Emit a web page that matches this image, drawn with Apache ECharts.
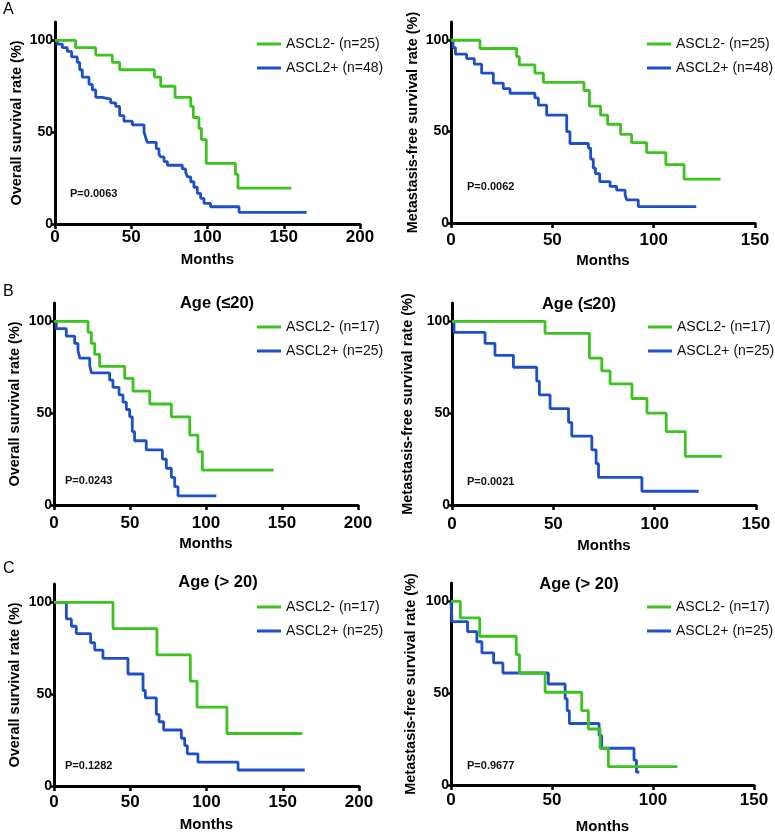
<!DOCTYPE html>
<html><head><meta charset="utf-8">
<script src="https://cdn.jsdelivr.net/npm/echarts@6/dist/echarts.min.js"></script>
<style>html,body{margin:0;padding:0;background:#fff}#c{width:775px;height:837px}</style>
</head><body><div id="c"></div>
<script>
// ---------- DATA ----------
const yTicks = [0, 50, 100];
const xMaxOS = 200, xMaxMFS = 150;
const legendA = ['ASCL2- (n=25)', 'ASCL2+ (n=48)'];
const legendBC = ['ASCL2- (n=17)', 'ASCL2+ (n=25)'];
const panelTitles = ['', '', 'Age (≤20)', 'Age (≤20)', 'Age (> 20)', 'Age (> 20)'];
const pValues = ['P=0.0063', 'P=0.0062', 'P=0.0243', 'P=0.0021', 'P=0.1282', 'P=0.9677'];
const yTitles = ['Overall survival rate (%)', 'Metastasis-free survival rate (%)'];

// Panel A, overall survival
const aOsNegT = [0, 13.5, 26.7, 37.6, 42.4, 65.2, 69.3, 78.7, 89, 90.7, 94.4, 96, 99.2, 118.3, 120, 155];
const aOsNegS = [100, 96, 92, 88, 84, 80, 75, 69, 64, 58, 52, 46, 33, 27, 19.5, 19.5];
const aOsPosT = [0, 1.5, 4.8, 8.1, 10.9, 14.6, 16.2, 17.9, 22.3, 24.5, 26.7, 31, 36.5, 39.8, 42.4, 45.2, 50.7, 58.4, 59.5, 60.5, 66.4, 68.2, 69.3, 71.5, 73.7, 83.5, 85.7, 86.8, 89, 91.1, 93.3, 95.5, 97.7, 102, 120.7, 165];
const aOsPosS = [100, 98, 96, 94, 91, 88, 84, 80, 76, 73, 69, 68, 66, 64, 59, 56, 54, 50, 47, 44.5, 41, 38, 36.5, 34, 32, 30, 28, 25.7, 23, 20, 16.7, 14, 11.2, 9.4, 6.3, 6.3];
// Panel A, metastasis-free survival
const aMfsNegT = [0, 14.3, 32.4, 33.7, 41.4, 45.6, 65.6, 68.3, 73.8, 77.3, 83.7, 89.1, 96.5, 106, 115, 133];
const aMfsNegS = [100, 95.5, 91, 86.5, 82, 77, 72.5, 64, 59, 54, 48.5, 44, 38.5, 32, 24, 24];
const aMfsPosT = [0, 1, 2.2, 7.7, 11.5, 15.1, 20.9, 25.8, 29.1, 41.4, 43.1, 47.2, 57.1, 58.7, 67.8, 68.9, 70.2, 71.3, 73.4, 78.5, 81.7, 85.9, 86.7, 92.4, 121];
const aMfsPosS = [100, 96, 92.4, 90, 87, 82, 76.5, 73.5, 71, 68.5, 64.5, 59, 50, 43.5, 41, 35, 30, 27, 22.6, 20, 18, 15.4, 12.7, 9, 9];
// Panel B (age <= 20)
const bOsNegT = [0, 22.4, 24.6, 26.8, 30, 46.5, 52, 63, 77.2, 89.3, 94.7, 97.6, 144.5];
const bOsNegS = [100, 94, 88, 82, 75.5, 69, 62, 55, 48, 38, 29, 19, 19];
const bOsPosT = [0, 1.5, 8.1, 13.6, 15.8, 17, 23.5, 24.6, 36.6, 38.8, 42.8, 45.4, 47.6, 49.8, 51.5, 53, 60.7, 71.3, 73.9, 77.2, 79.4, 81.6, 106.8];
const bOsPosS = [100, 96, 92, 88, 84, 80, 76, 72, 68, 64, 60, 56, 52, 48, 40, 35, 30, 25, 20, 15, 10, 5, 5];
const bMfsNegT = [0, 45.9, 67.8, 73.9, 78, 88.8, 96.2, 105.7, 115.1, 133.2];
const bMfsNegS = [100, 93.5, 80, 73, 66, 58, 50, 40, 26.5, 26.5];
const bMfsPosT = [0, 1, 16.3, 21.2, 30.3, 41.8, 43.1, 48.4, 57.5, 59.1, 69, 71.1, 72.3, 93.7, 121.7];
const bMfsPosS = [100, 94, 88, 81.5, 75, 67.5, 60, 52.5, 45, 37.5, 30, 22.5, 15, 7.5, 7.5];
// Panel C (age > 20)
const cOsNegT = [0, 38.7, 67.5, 89.4, 93.8, 113.4, 162.8];
const cOsNegS = [100, 85.7, 71.4, 57.1, 42.9, 28.6, 28.6];
const cOsPosT = [0, 8.1, 11.4, 14.6, 24, 26.7, 32.1, 48.5, 58.4, 59.9, 67.1, 68.9, 71.9, 83.5, 85.7, 87.4, 94.4, 120.7, 164.4];
const cOsPosS = [100, 91, 87, 83, 78, 74, 69.5, 61, 52, 48, 39, 35, 30.5, 26, 22, 17.5, 13, 8.7, 8.7];
const cMfsNegT = [0, 4.6, 14.2, 32.3, 33.9, 46.6, 64.7, 68, 73.8, 77.9, 112.1];
const cMfsNegS = [100, 91, 81, 71, 61, 50.5, 40.5, 30.5, 20, 10, 10];
const cMfsPosT = [0, 0.5, 8.2, 12.8, 15.3, 21.1, 25.7, 48.2, 56.5, 57.5, 58.6, 73.3, 74.6, 90.6, 91.8, 93.2];
const cMfsPosS = [100, 89, 83.5, 78, 72, 66.5, 61, 55, 47, 40.5, 33.5, 27, 20, 13.5, 7, 7];

// ---------- LAYOUT ----------
const GREEN = '#3cc31f', BLUE = '#1e4fcb';
const FONT = "'Liberation Sans', Arial, sans-serif";
const panels = [
  {grid:{left:55,top:22,width:305,height:202}, xMax:xMaxOS, yT:0, legend:legendA, neg:[aOsNegT,aOsNegS], pos:[aOsPosT,aOsPosS], lm:5, ng:28, yng:31, lg:{left:252,top:32}, p:{left:70,top:188}, t:null},
  {grid:{left:451,top:22,width:304,height:201}, xMax:xMaxMFS, yT:1, legend:legendA, neg:[aMfsNegT,aMfsNegS], pos:[aMfsPosT,aMfsPosS], lm:9, ng:30, yng:31, lg:{left:642,top:32}, p:{left:467,top:181}, t:null},
  {grid:{left:54,top:303,width:304,height:202}, xMax:xMaxOS, yT:0, legend:legendBC, neg:[bOsNegT,bOsNegS], pos:[bOsPosT,bOsPosS], lm:10, ng:31, yng:32, lg:{left:252,top:315}, p:{left:65,top:475}, t:{x:217,top:295}},
  {grid:{left:452,top:303,width:304,height:202}, xMax:xMaxMFS, yT:1, legend:legendBC, neg:[bMfsNegT,bMfsNegS], pos:[bMfsPosT,bMfsPosS], lm:11, ng:33, yng:37, lg:{left:643,top:315}, p:{left:467,top:476}, t:{x:579,top:296}},
  {grid:{left:54,top:584,width:305,height:202}, xMax:xMaxOS, yT:0, legend:legendBC, neg:[cOsNegT,cOsNegS], pos:[cOsPosT,cOsPosS], lm:8, ng:31, yng:32, lg:{left:252,top:595}, p:{left:65,top:760}, t:{x:218,top:574}},
  {grid:{left:451,top:583,width:303,height:202}, xMax:xMaxMFS, yT:1, legend:legendBC, neg:[cMfsNegT,cMfsNegS], pos:[cMfsPosT,cMfsPosS], lm:7, ng:34, yng:33, lg:{left:642,top:595}, p:{left:467,top:760}, t:{x:579,top:576}}
];

const zip = (t, s) => t.map((v, i) => [v, s[i]]);
const grid = [], xAxis = [], yAxis = [], series = [], legend = [], title = [];
const axisLine = {show:true, onZero:false, lineStyle:{color:'#000', width:3}};

panels.forEach((p, i) => {
  grid.push(p.grid);
  xAxis.push({
    type:'value', gridIndex:i, min:0, max:p.xMax, interval:50,
    axisLine, axisTick:{show:true, length:5, lineStyle:{color:'#000', width:2.5}},
    axisLabel:{color:'#000', fontWeight:'bold', fontSize:17, fontFamily:FONT, margin:p.lm},
    splitLine:{show:false},
    name:'Months', nameLocation:'middle', nameGap:p.ng,
    nameTextStyle:{color:'#000', fontWeight:'bold', fontSize:15, fontFamily:FONT}
  });
  yAxis.push({
    type:'value', gridIndex:i, min:0, max:110,
    axisLine, axisTick:{show:true, length:4, customValues:yTicks, lineStyle:{color:'#000', width:2.5}},
    axisLabel:{color:'#000', fontWeight:'bold', fontSize:14, fontFamily:FONT, margin:2, customValues:yTicks},
    splitLine:{show:false},
    name:yTitles[p.yT], nameLocation:'middle', nameGap:p.yng, nameRotate:90,
    nameTextStyle:{color:'#000', fontWeight:'bold', fontSize:14.5, fontFamily:FONT}
  });
  series.push({
    type:'line', name:p.legend[1], xAxisIndex:i, yAxisIndex:i, step:'end', showSymbol:false,
    data:zip(p.pos[0], p.pos[1]), color:BLUE, lineStyle:{color:BLUE, width:2.8}, z:2, animation:false
  });
  series.push({
    type:'line', name:p.legend[0], xAxisIndex:i, yAxisIndex:i, step:'end', showSymbol:false,
    data:zip(p.neg[0], p.neg[1]), color:GREEN, lineStyle:{color:GREEN, width:2.8}, z:3, animation:false
  });
  legend.push({
    orient:'vertical', left:p.lg.left, top:p.lg.top, itemWidth:24, itemHeight:3, itemGap:10,
    icon:'rect', selectedMode:false, data:[p.legend[0], p.legend[1]],
    textStyle:{fontSize:14, color:'#111', fontFamily:FONT}
  });
  title.push({text:pValues[i], left:p.p.left, top:p.p.top, padding:0,
    textStyle:{fontSize:11, fontWeight:'bold', color:'#111', fontFamily:FONT}});
  if (p.t && panelTitles[i]) {
    title.push({text:panelTitles[i], left:p.t.x, top:p.t.top, textAlign:'center', padding:0,
      textStyle:{fontSize:16.5, fontWeight:'bold', color:'#000', fontFamily:FONT}});
  }
});
[['A',2],['B',284],['C',561]].forEach(([t, top]) => {
  title.push({text:t, left:3, top:top, padding:0, textStyle:{fontSize:16, fontWeight:'normal', color:'#000', fontFamily:FONT}});
});

const chart = echarts.init(document.getElementById('c'), null, {renderer:'canvas'});
chart.setOption({backgroundColor:'#fff', animation:false, grid, xAxis, yAxis, series, legend, title});
</script>
</body></html>
